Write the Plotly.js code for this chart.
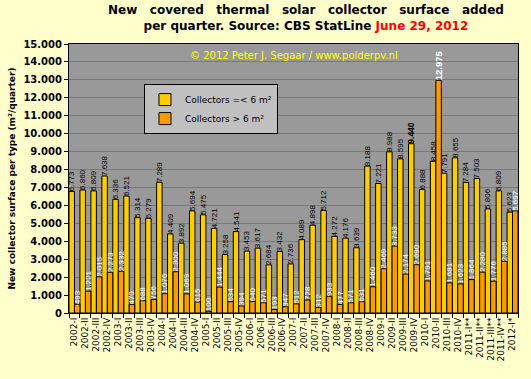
<!DOCTYPE html>
<html>
<head>
<meta charset="utf-8">
<script src="https://cdn.plot.ly/plotly-3.0.1.min.js"></script>
<style>html,body{margin:0;padding:0;background:#FFFFCC;}#chart{width:531px;height:379px;}</style>
</head>
<body>
<div id="chart"></div>
<script>
var quarters = ["2002-I","2002-II","2002-III","2002-IV",
  "2003-I","2003-II","2003-III","2003-IV",
  "2004-I","2004-II","2004-III","2004-IV",
  "2005-I","2005-II","2005-III","2005-IV",
  "2006-I","2006-II","2006-III","2006-IV",
  "2007-I","2007-II","2007-III","2007-IV",
  "2008-I","2008-II","2008-III","2008-IV",
  "2009-I","2009-II","2009-III","2009-IV",
  "2010-I","2010-II","2010-III","2010-IV",
  "2011-I**","2011-II**","2011-III**","2011-IV**","2012-I*"];

var smallCollectors = [6773,6860,6809,7638, 6336,6521,5314,5279, 7289,4409,3892,5694,
  5475,4721,3258,4541, 3453,3617,2684,3432, 2736,4089,4898,5712, 4272,4176,3639,8188,
  7221,8988,8595,9440, 6888,8458,7791,8655, 7284,7503,5806,6809, 5623];

var largeCollectors = [493,1221,2015,2273, 2332,470,688,756, 1076,2300,1069,615,
  100,1444,634,394, 640,571,193,347, 512,728,312,933, 477,571,631,1460,
  2469,3733,2174,2690, 1791,12975,1681,1623, 1864,2280,1776,2885, 5697];

var seriesNames = ["Collectors =< 6 m²", "Collectors > 6 m²"];

function labelTemplates(vals) {
  var mx = Math.max.apply(null, vals);
  return vals.map(function(v){ return v === mx ? "<b>%{y:,}</b>" : "%{y:,}"; });
}
function labelSizes(vals, normal, big) {
  var mx = Math.max.apply(null, vals);
  return vals.map(function(v){ return v === mx ? big : normal; });
}

var traces = [
  {
    type: "bar", name: seriesNames[0], x: quarters, y: smallCollectors,
    marker: {color: "#FFCC00", line: {color: "#000000", width: 1}},
    texttemplate: labelTemplates(smallCollectors), textposition: "outside", textangle: -90,
    constraintext: "none", cliponaxis: false,
    textfont: {family: "Liberation Sans", size: labelSizes(smallCollectors, 8, 8.5), color: "#000000"},
    hoverinfo: "skip", legendgroup: "a"
  },
  {
    type: "bar", name: seriesNames[1], x: quarters, y: largeCollectors,
    marker: {color: "#FF9900", line: {color: "#000000", width: 1}},
    texttemplate: labelTemplates(largeCollectors), textposition: "outside", textangle: -90,
    constraintext: "none", cliponaxis: false,
    textfont: {family: "Liberation Sans", size: labelSizes(largeCollectors, 8, 9.5), color: "#FFFFFF"},
    hoverinfo: "skip", legendgroup: "b"
  }
];

var S = "\u00A0\u00A0\u00A0";
var titleLine1 = ["New","covered","thermal","solar","collector","surface","added"].join(S);

var layout = {
  width: 531, height: 379,
  margin: {l: 69, r: 13, t: 44, b: 66, pad: 0},
  paper_bgcolor: "#FFFFCC",
  plot_bgcolor: "#999999",
  separators: ",.",
  font: {family: "DejaVu Sans", color: "#000000"},
  barmode: "group", bargap: 0, bargroupgap: 0,
  showlegend: true,
  xaxis: {
    type: "category", tickson: "boundaries", ticks: "outside", ticklen: 4, tickcolor: "#000000",
    tickmode: "linear", tick0: 0, dtick: 1,
    tickangle: -90, tickfont: {family: "DejaVu Sans", size: 9, color: "#000000"},
    showgrid: false, showline: true, mirror: true, linecolor: "#000000", linewidth: 1,
    automargin: false
  },
  yaxis: {
    range: [0, 15000], dtick: 1000, tickformat: ",",
    tickfont: {family: "DejaVu Sans", size: 10, color: "#000000", weight: "bold"},
    ticks: "outside", ticklen: 4, tickcolor: "#000000",
    gridcolor: "#7A7A7A", gridwidth: 1, zeroline: false,
    showline: true, mirror: true, linecolor: "#000000", linewidth: 1,
    automargin: false,
    title: {text: "<b>New collector surface per type (m²/quarter)</b>",
            font: {family: "DejaVu Sans", size: 9, color: "#000000"}, standoff: 6}
  },
  legend: {
    x: 0.167, y: 0.851, xanchor: "left", yanchor: "top",
    bgcolor: "#C0C0C0", bordercolor: "#000000", borderwidth: 1,
    font: {family: "DejaVu Sans", size: 9, color: "#000000"},
    traceorder: "grouped", tracegroupgap: 0,
    entrywidth: 128, entrywidthmode: "pixels"
  },
  annotations: [
    {text: "<b>" + titleLine1 + "<br>per quarter. Source: CBS StatLine <span style=\"color:#FF0000\">June 29, 2012</span></b>",
     xref: "paper", yref: "paper", x: 0.528, y: 1.158, xanchor: "center", yanchor: "top",
     showarrow: false, align: "center",
     font: {family: "DejaVu Sans", size: 12, color: "#000000"}},
    {text: "© 2012 Peter J. Segaar / www.polderpv.nl", xref: "paper", yref: "paper",
     x: 0.5, y: 0.958, xanchor: "center", yanchor: "middle", showarrow: false,
     font: {family: "DejaVu Sans", size: 10, color: "#FFFF00"}}
  ]
};

Plotly.newPlot("chart", traces, layout, {staticPlot: true, displayModeBar: false});
</script>
</body>
</html>
